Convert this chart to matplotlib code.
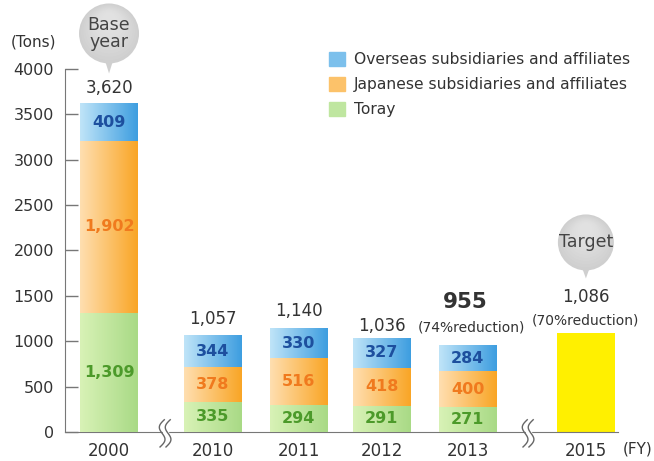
import numpy as np
import matplotlib.pyplot as plt
from matplotlib.colors import LinearSegmentedColormap
from matplotlib.patches import Patch, Circle, Polygon
from matplotlib.transforms import ScaledTranslation

plt.rcParams['font.family'] = ['DejaVu Sans']

# data (tons)
years = ['2000', '2010', '2011', '2012', '2013', '2015']
toray = [1309, 335, 294, 291, 271]
japanese = [1902, 378, 516, 418, 400]
overseas = [409, 344, 330, 327, 284]
total_labels = ['3,620', '1,057', '1,140', '1,036', '955']
target_2015 = 1086

# x positions, with gaps where the axis is broken
pos = [0, 1.22, 2.23, 3.21, 4.22, 5.61]
width = 0.68

green_cm = LinearSegmentedColormap.from_list('g', ['#d8f2b6', '#a9da86'])
orange_cm = LinearSegmentedColormap.from_list('o', ['#ffdfb0', '#f9a526'])
blue_cm = LinearSegmentedColormap.from_list('b', ['#bfe4f8', '#3e9ee0'])

fig = plt.figure(figsize=(6.54, 4.61), dpi=100)
ax = fig.add_axes([65 / 654, 1 - 432 / 461, 560 / 654, 363 / 461])

xs = pos[:5]
b1 = ax.bar(xs, toray, width, color='#bfe6a0', zorder=2)
b2 = ax.bar(xs, japanese, width, bottom=toray, color='#fcc26a', zorder=2)
bottom3 = [a + b for a, b in zip(toray, japanese)]
b3 = ax.bar(xs, overseas, width, bottom=bottom3, color='#7cc0ec', zorder=2)
ax.bar(pos[5], target_2015, width, color='#fff000', zorder=2)

# horizontal gradient fill on each segment
grad = np.linspace(0, 1, 64).reshape(1, -1)
for bars, cm in [(b1, green_cm), (b2, orange_cm), (b3, blue_cm)]:
    for r in bars:
        x0, y0 = r.get_x(), r.get_y()
        ax.imshow(grad, cmap=cm, aspect='auto', zorder=3,
                  extent=[x0, x0 + r.get_width(), y0, y0 + r.get_height()])

# segment values
for i in range(5):
    ax.text(xs[i], toray[i] / 2, f'{toray[i]:,}', ha='center', va='center',
            color='#4c9a2a', fontsize=11.5, fontweight='bold', zorder=4)
    ax.text(xs[i], toray[i] + japanese[i] / 2, f'{japanese[i]:,}', ha='center',
            va='center', color='#f07a1e', fontsize=11.5, fontweight='bold', zorder=4)
    ax.text(xs[i], bottom3[i] + overseas[i] / 2, f'{overseas[i]:,}', ha='center',
            va='center', color='#1d4f9e', fontsize=11.5, fontweight='bold', zorder=4)

# totals
totals = [a + b for a, b in zip(bottom3, overseas)]
label_dy = [5, 6, 6, 2]
for i in range(4):
    ax.annotate(total_labels[i], (xs[i], totals[i]), xytext=(0, label_dy[i]),
                textcoords='offset points', ha='center', va='bottom',
                fontsize=12, color='#333333', annotation_clip=False)
ax.annotate('(74%reduction)', (xs[4], totals[4]), xytext=(3, 8),
            textcoords='offset points', ha='center', va='bottom',
            fontsize=10, color='#333333')
ax.annotate(total_labels[4], (xs[4], totals[4]), xytext=(-2, 24),
            textcoords='offset points', ha='center', va='bottom',
            fontsize=15.5, fontweight='bold', color='#333333')
ax.annotate('(70%reduction)', (pos[5], target_2015), xytext=(0, 4),
            textcoords='offset points', ha='center', va='bottom',
            fontsize=10, color='#333333')
ax.annotate(f'{target_2015:,}', (pos[5], target_2015), xytext=(0, 20),
            textcoords='offset points', ha='center', va='bottom',
            fontsize=12, color='#333333')

ax.set_xlim(-0.518, 6.07)
ax.set_ylim(0, 4000)


# speech balloons (sizes in pixels, anchored on a bar top)
def balloon(x, y, text, r_px, dy_px, tip_px):
    tr = fig.dpi_scale_trans + ScaledTranslation(x, y, ax.transData)
    r, cy, tip = r_px / 100, dy_px / 100, tip_px / 100
    ax.add_patch(Polygon([(-0.05, cy - r + 0.06), (0.05, cy - r + 0.06), (0, tip)],
                         transform=tr, fc='#cfcfcf', ec='none', clip_on=False))
    ax.add_patch(Circle((0, cy), r, transform=tr, fc='#cfcfcf', ec='none',
                        clip_on=False))
    # soft highlight towards the top
    for k in range(1, 12):
        f = 1 - k * 0.07
        ax.add_patch(Circle((0, cy + r * (1 - f) * 0.6), r * f, transform=tr,
                            fc='white', ec='none', alpha=0.06, clip_on=False))
    ax.text(0, cy, text, transform=tr, ha='center', va='center', fontsize=12.5,
            color='#444444', linespacing=0.95)


balloon(pos[0], totals[0], 'Base\nyear', 30, 70, 30)
balloon(pos[5], target_2015, 'Target', 28, 91, 55)


# axis breaks
def axis_break(xc):
    t = np.linspace(0, 1, 60)
    yy = 135 - 300 * t
    ax.fill_betweenx([-20, 20], xc - 0.03, xc + 0.03, color='white',
                     clip_on=False, zorder=4)
    for off in (-0.035, 0.035):
        xx = xc + off - 0.045 * np.sin(2 * np.pi * t) + 0.05 * (0.5 - t)
        ax.plot(xx, yy, color='#666666', lw=1, clip_on=False, zorder=5)


axis_break(0.66)
axis_break(4.93)

ax.set_yticks(np.arange(0, 4001, 500))
ax.set_xticks(pos)
ax.set_xticklabels(years)
ax.tick_params(axis='y', direction='in', length=9, width=1, color='#777777',
               labelsize=11.5, labelcolor='#333333', pad=8)
ax.tick_params(axis='x', length=0, labelsize=12, labelcolor='#333333', pad=7)
for s in ['top', 'right']:
    ax.spines[s].set_visible(False)
for s in ['left', 'bottom']:
    ax.spines[s].set_color('#777777')
ax.spines['bottom'].set_bounds(-0.518, 5.99)

fig.text(34 / 654, 1 - 42 / 461, '(Tons)', ha='center', va='center',
         fontsize=11, color='#333333')
fig.text(638 / 654, 1 - 449 / 461, '(FY)', ha='center', va='center',
         fontsize=11, color='#333333')

handles = [Patch(color='#7cc0ec'), Patch(color='#fcc26a'), Patch(color='#bfe6a0')]
labels = ['Overseas subsidiaries and affiliates',
          'Japanese subsidiaries and affiliates', 'Toray']
fig.legend(handles, labels, loc='upper left', bbox_to_anchor=(315 / 654, 1 - 38 / 461),
           frameon=False, fontsize=11.2, handlelength=1.0, handleheight=1.0,
           handletextpad=0.6, labelspacing=0.62, labelcolor='#333333')

fig.savefig('out.png', dpi=100)
